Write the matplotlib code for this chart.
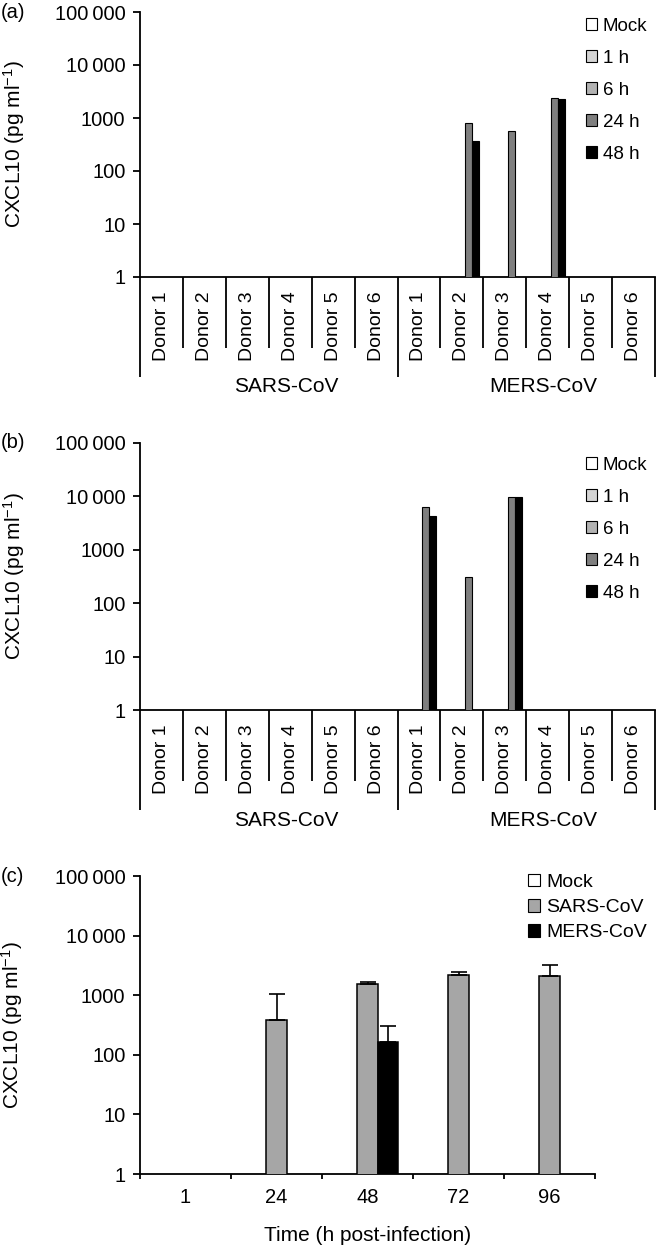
import matplotlib
matplotlib.use('Agg')
import matplotlib.pyplot as plt
import matplotlib.transforms as mtransforms
from matplotlib.patches import Patch
from matplotlib.ticker import NullLocator, FixedLocator
import numpy as np

plt.rcParams['font.family'] = ['Liberation Sans', 'DejaVu Sans']
plt.rcParams['mathtext.default'] = 'regular'

# ---------------- data ----------------
donors = ['Donor 1', 'Donor 2', 'Donor 3', 'Donor 4', 'Donor 5', 'Donor 6']
viruses = ['SARS-CoV', 'MERS-CoV']
timepoints = ['Mock', '1 h', '6 h', '24 h', '48 h']

a_mock = [0, 0, 0, 0, 0, 0, 0, 0, 0, 0, 0, 0]
a_1h = [0, 0, 0, 0, 0, 0, 0, 0, 0, 0, 0, 0]
a_6h = [0, 0, 0, 0, 0, 0, 0, 0, 0, 0, 0, 0]
a_24h = [0, 0, 0, 0, 0, 0, 0, 820, 570, 2380, 0, 0]
a_48h = [0, 0, 0, 0, 0, 0, 0, 368, 0, 2280, 0, 0]

b_mock = [0, 0, 0, 0, 0, 0, 0, 0, 0, 0, 0, 0]
b_1h = [0, 0, 0, 0, 0, 0, 0, 0, 0, 0, 0, 0]
b_6h = [0, 0, 0, 0, 0, 0, 0, 0, 0, 0, 0, 0]
b_24h = [0, 0, 0, 0, 0, 0, 6350, 310, 9800, 0, 0, 0]
b_48h = [0, 0, 0, 0, 0, 0, 4300, 0, 9600, 0, 0, 0]

c_times = ['1', '24', '48', '72', '96']
c_series = ['Mock', 'SARS-CoV', 'MERS-CoV']
c_mock = [0, 0, 0, 0, 0]
c_sars = [0, 383, 1525, 2155, 2074]
c_sars_err = [0, 657, 140, 262, 1088]
c_mers = [0, 0, 165, 0, 0]
c_mers_err = [0, 0, 139, 0, 0]

yticks = [1, 10, 100, 1000, 10000, 100000]
yticklabels = ['1', '10', '100', '1000', '10\u2009000', '100\u2009000']

# ---------------- style ----------------
W, H, DPI = 656, 1248, 100
time_colors = ['#ffffff', '#d4d4d4', '#b2b2b2', '#7f7f7f', '#000000']
c_colors = ['#ffffff', '#a6a6a6', '#000000']
LW = 1.3
TICK_FS = 14.5
ylabel_text = 'CXCL10 (pg ml$^{-1}$)'

fig = plt.figure(figsize=(W / DPI, H / DPI), dpi=DPI)


def px_axes(left, top, right, bottom):
    return fig.add_axes([left / W, 1 - bottom / H, (right - left) / W, (bottom - top) / H])


def style_yaxis(ax, label_x):
    ax.set_yscale('log')
    ax.set_ylim(1, 100000)
    ax.yaxis.set_major_locator(FixedLocator(yticks))
    ax.set_yticklabels(yticklabels, fontsize=TICK_FS)
    ax.yaxis.set_minor_locator(NullLocator())
    ax.tick_params(axis='y', direction='out', length=5, width=LW, pad=5.5)
    for s in ['top', 'right']:
        ax.spines[s].set_visible(False)
    for s in ['left', 'bottom']:
        ax.spines[s].set_linewidth(LW)
    ax.set_ylabel(ylabel_text, fontsize=15)
    ax.yaxis.set_label_coords(label_x, 0.5)


def donor_panel(top, bottom, series, legend_top, letter):
    left, right = 140, 655
    ax = px_axes(left, top, right, bottom)
    n = len(donors) * len(viruses)
    x = np.arange(n)
    w = 0.163
    for i, (vals, col) in enumerate(zip(series, time_colors)):
        v = np.array(vals, dtype=float)
        m = v > 0
        ax.bar(x[m] + (i - 2) * w, v[m], width=w, color=col,
               edgecolor='black', linewidth=0.8, zorder=3)
    ax.set_xlim(-0.5, n - 0.5)
    style_yaxis(ax, (27 - left) / (right - left))
    ax.set_xticks(x)
    ax.set_xticklabels(donors * len(viruses), rotation=90, fontsize=14,
                       va='top', ha='center')
    ax.tick_params(axis='x', length=0, pad=10.5)
    hpx = bottom - top
    trans = mtransforms.blended_transform_factory(ax.transData, ax.transAxes)
    for k in range(n + 1):
        b = k - 0.5
        long = (k % len(donors) == 0)
        depth = (100 if long else 71) / hpx
        ax.plot([b, b], [0, -depth], transform=trans, color='black',
                lw=LW, clip_on=False, solid_capstyle='butt')
    for g, name in enumerate(viruses):
        cx = g * len(donors) + (len(donors) - 1) / 2 + 0.4
        ax.text(cx, -110 / hpx, name, transform=trans, ha='center',
                va='center', fontsize=15)
    handles = [Patch(facecolor=c, edgecolor='black', linewidth=0.8) for c in time_colors]
    fig.legend(handles, timepoints, loc='upper left',
               bbox_to_anchor=(586 / W, 1 - legend_top / H), frameon=False,
               handlelength=0.6, handleheight=0.6, handletextpad=0.3,
               labelspacing=0.8, borderpad=0, borderaxespad=0, fontsize=13.5)
    fig.text(1 / W, 1 - top / H, letter, ha='left', va='center', fontsize=14.5)
    return ax


donor_panel(12, 277, [a_mock, a_1h, a_6h, a_24h, a_48h], 18, '(a)')
donor_panel(443, 710, [b_mock, b_1h, b_6h, b_24h, b_48h], 457, '(b)')

# ---------------- panel c ----------------
left, right, top, bottom = 140, 595, 876, 1174
axc = px_axes(left, top, right, bottom)
xc = np.arange(len(c_times))
wc = 0.22
for i, (vals, col) in enumerate(zip([c_mock, c_sars, c_mers], c_colors)):
    v = np.array(vals, dtype=float)
    m = v > 0
    axc.bar(xc[m] + (i - 1) * wc, v[m], width=wc, color=col,
            edgecolor='black', linewidth=1.1, zorder=3)
for i, (vals, errs) in enumerate([(c_sars, c_sars_err), (c_mers, c_mers_err)], start=1):
    v = np.array(vals, dtype=float)
    e = np.array(errs, dtype=float)
    m = v > 0
    axc.errorbar(xc[m] + (i - 1) * wc, v[m], yerr=[np.zeros(m.sum()), e[m]],
                 fmt='none', ecolor='black', elinewidth=1.2, capsize=6,
                 capthick=1.2, zorder=4)
axc.set_xlim(-0.5, len(c_times) - 0.5)
style_yaxis(axc, (25 - left) / (right - left))
axc.set_xticks(xc)
axc.set_xticklabels(c_times, fontsize=TICK_FS)
axc.xaxis.set_minor_locator(FixedLocator(np.arange(len(c_times) + 1) - 0.5))
axc.tick_params(axis='x', which='major', length=0, pad=10)
axc.tick_params(axis='x', which='minor', direction='out', length=3.5, width=LW)
axc.set_xlabel('Time (h post-infection)', fontsize=15, labelpad=14)
handles_c = [Patch(facecolor=c, edgecolor='black', linewidth=0.8) for c in c_colors]
fig.legend(handles_c, c_series, loc='upper left',
           bbox_to_anchor=(528 / W, 1 - 874 / H), frameon=False,
           handlelength=0.6, handleheight=0.6, handletextpad=0.35,
           labelspacing=0.42, borderpad=0, borderaxespad=0, fontsize=14)
fig.text(1 / W, 1 - top / H, '(c)', ha='left', va='center', fontsize=14.5)

fig.savefig('out.png', dpi=DPI)
